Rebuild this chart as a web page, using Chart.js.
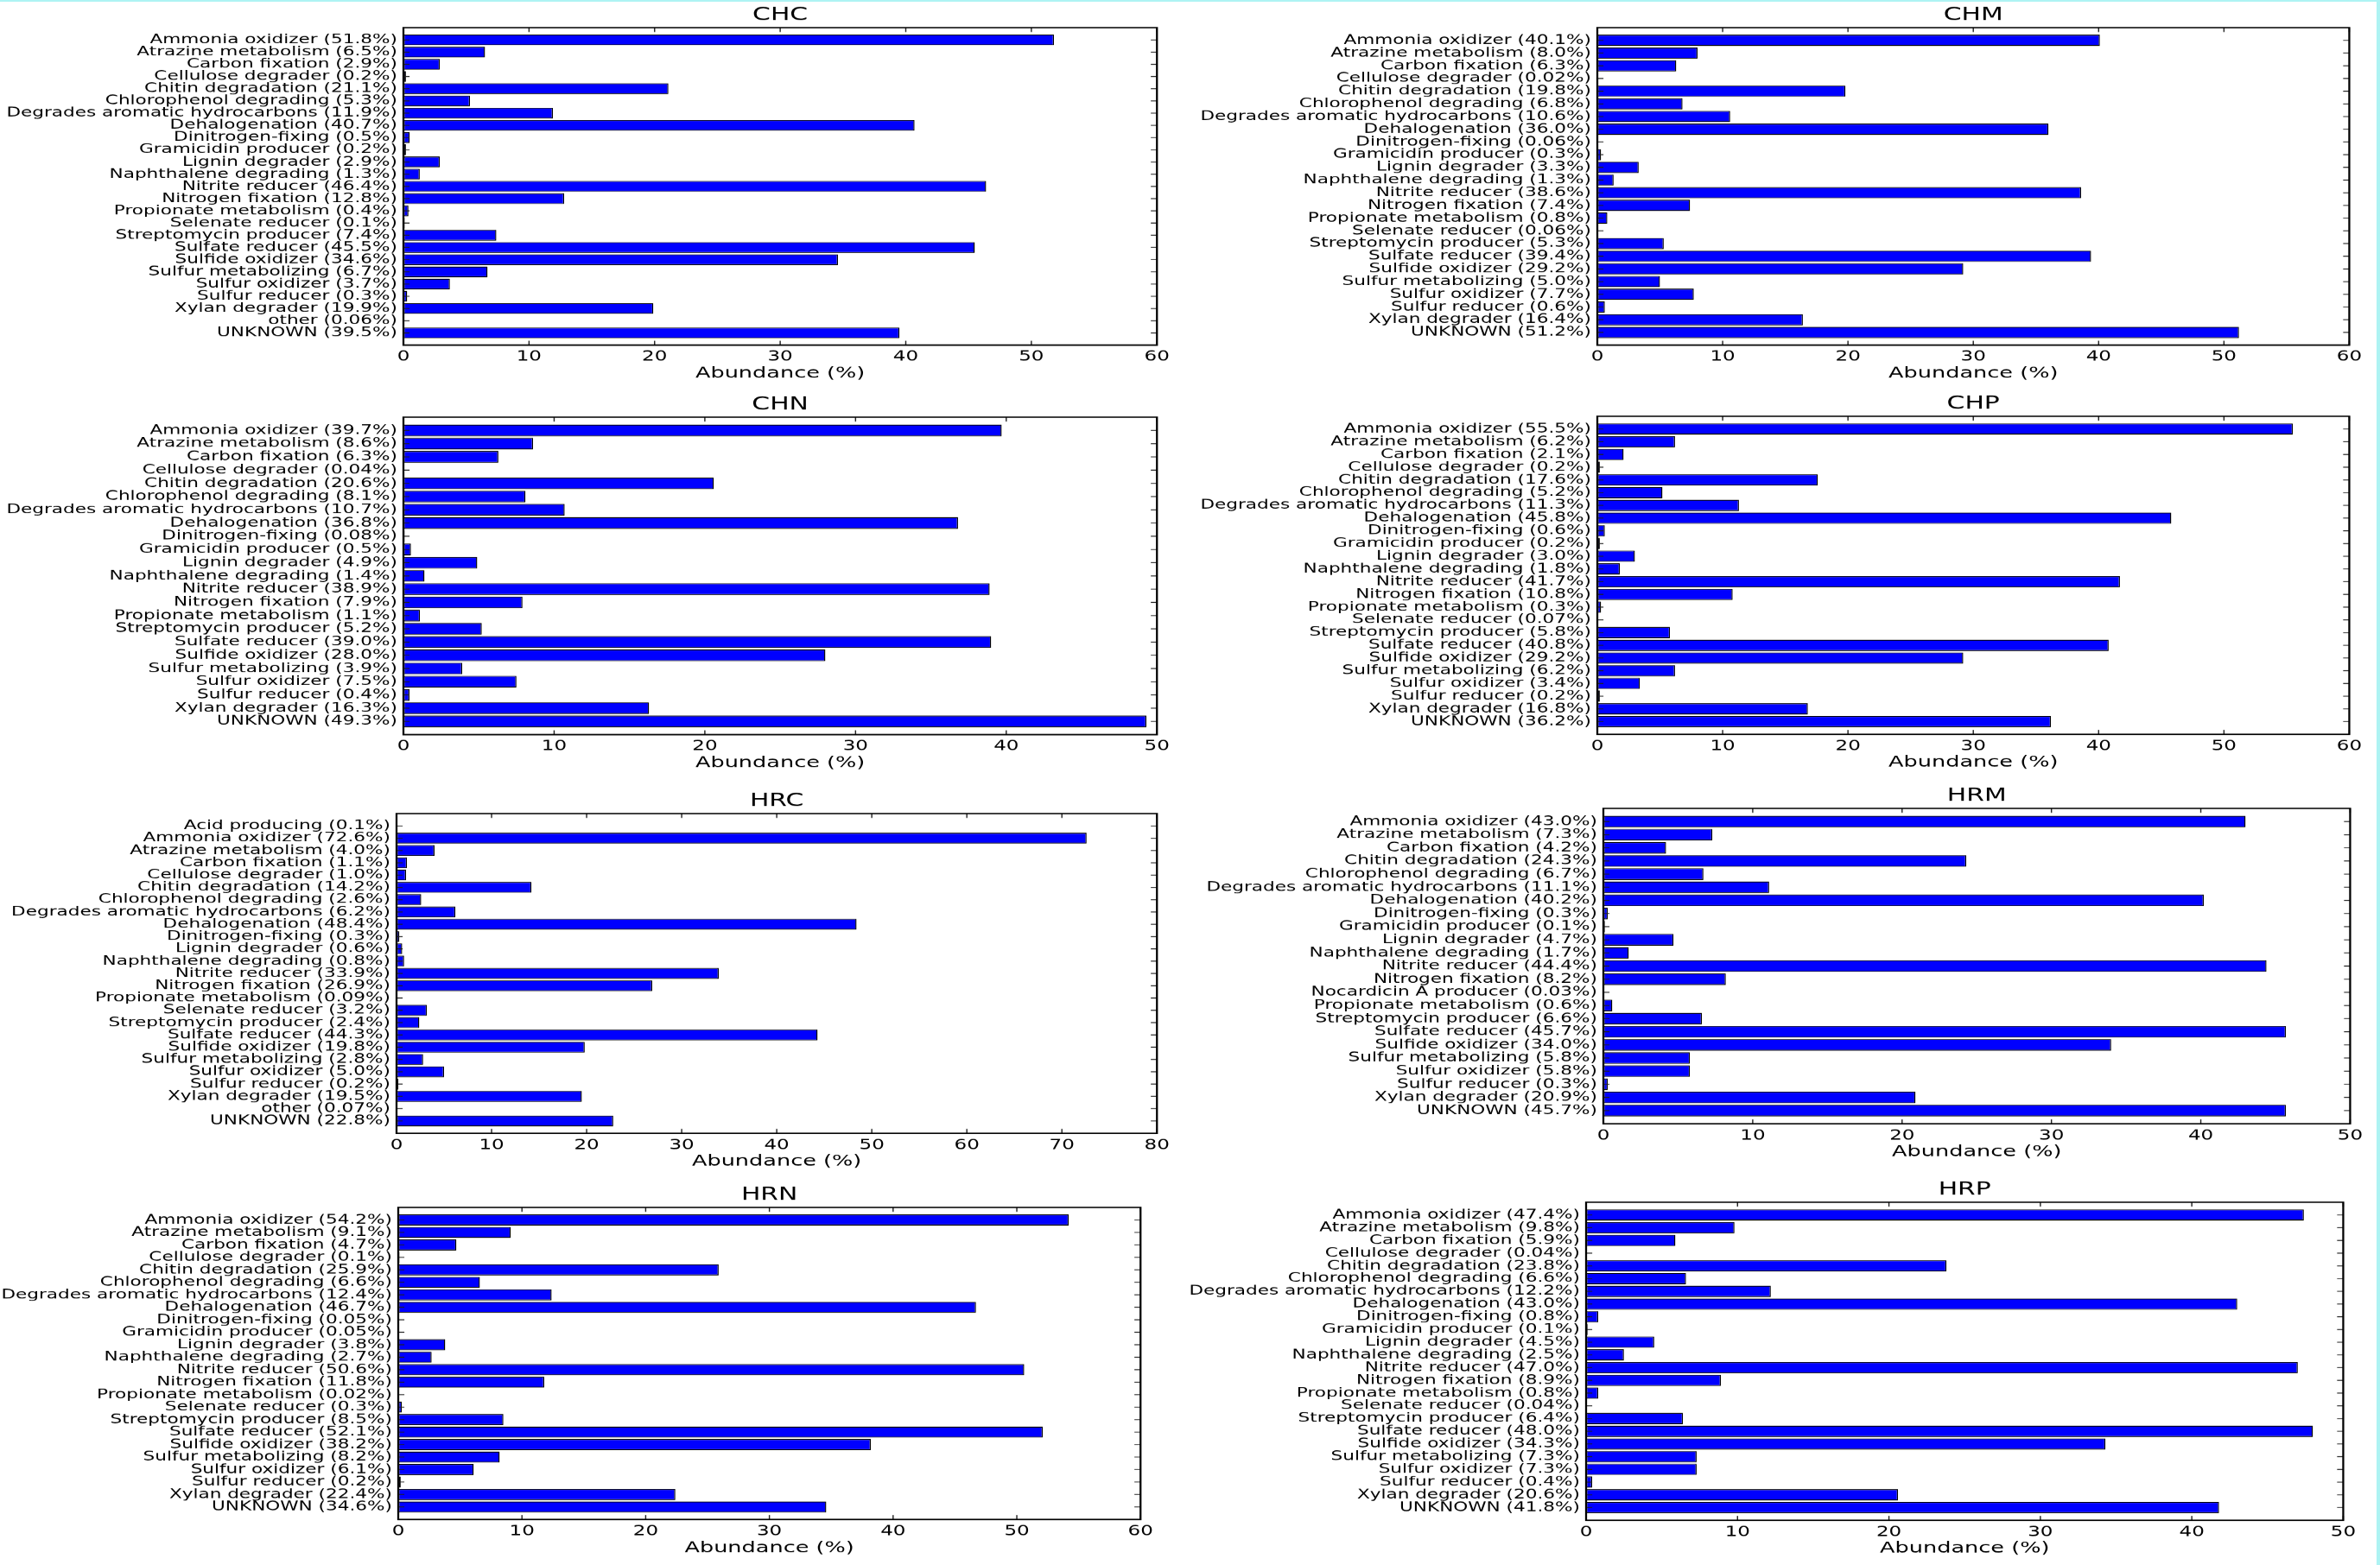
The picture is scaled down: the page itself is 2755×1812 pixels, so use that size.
<!DOCTYPE html>
<html>
<head>
<meta charset="utf-8">
<title>Functional group abundance</title>
<script src="https://cdn.jsdelivr.net/npm/chart.js@4.4.1/dist/chart.umd.min.js"></script>
<style>
  html, body { margin: 0; padding: 0; background: #fff; }
  #page { position: relative; width: 2755px; height: 1812px; overflow: hidden; background: #fff; }
  #page canvas { position: absolute; }
  .edge { position: absolute; background: #aef3f3; }
</style>
</head>
<body>
<div id="page">
  <div class="edge" style="left:0;top:0;width:2755px;height:2px"></div>
  <div class="edge" style="left:2751px;top:0;width:4px;height:1812px"></div>
</div>
<script>
const chcNames = ['Ammonia oxidizer', 'Atrazine metabolism', 'Carbon fixation', 'Cellulose degrader', 'Chitin degradation',
  'Chlorophenol degrading', 'Degrades aromatic hydrocarbons', 'Dehalogenation', 'Dinitrogen-fixing', 'Gramicidin producer',
  'Lignin degrader', 'Naphthalene degrading', 'Nitrite reducer', 'Nitrogen fixation', 'Propionate metabolism',
  'Selenate reducer', 'Streptomycin producer', 'Sulfate reducer', 'Sulfide oxidizer', 'Sulfur metabolizing',
  'Sulfur oxidizer', 'Sulfur reducer', 'Xylan degrader', 'other', 'UNKNOWN'];
const chcValues = [51.8, 6.5, 2.9, 0.2, 21.1, 5.3, 11.9, 40.7, 0.5, 0.2, 2.9, 1.3, 46.4, 12.8, 0.4,
  0.1, 7.4, 45.5, 34.6, 6.7, 3.7, 0.3, 19.9, 0.06, 39.5];

const chmNames = ['Ammonia oxidizer', 'Atrazine metabolism', 'Carbon fixation', 'Cellulose degrader', 'Chitin degradation',
  'Chlorophenol degrading', 'Degrades aromatic hydrocarbons', 'Dehalogenation', 'Dinitrogen-fixing', 'Gramicidin producer',
  'Lignin degrader', 'Naphthalene degrading', 'Nitrite reducer', 'Nitrogen fixation', 'Propionate metabolism',
  'Selenate reducer', 'Streptomycin producer', 'Sulfate reducer', 'Sulfide oxidizer', 'Sulfur metabolizing',
  'Sulfur oxidizer', 'Sulfur reducer', 'Xylan degrader', 'UNKNOWN'];
const chmValues = [40.1, 8.0, 6.3, 0.02, 19.8, 6.8, 10.6, 36.0, 0.06, 0.3, 3.3, 1.3, 38.6, 7.4, 0.8,
  0.06, 5.3, 39.4, 29.2, 5.0, 7.7, 0.6, 16.4, 51.2];

const chnNames = ['Ammonia oxidizer', 'Atrazine metabolism', 'Carbon fixation', 'Cellulose degrader', 'Chitin degradation',
  'Chlorophenol degrading', 'Degrades aromatic hydrocarbons', 'Dehalogenation', 'Dinitrogen-fixing', 'Gramicidin producer',
  'Lignin degrader', 'Naphthalene degrading', 'Nitrite reducer', 'Nitrogen fixation', 'Propionate metabolism',
  'Streptomycin producer', 'Sulfate reducer', 'Sulfide oxidizer', 'Sulfur metabolizing', 'Sulfur oxidizer',
  'Sulfur reducer', 'Xylan degrader', 'UNKNOWN'];
const chnValues = [39.7, 8.6, 6.3, 0.04, 20.6, 8.1, 10.7, 36.8, 0.08, 0.5, 4.9, 1.4, 38.9, 7.9, 1.1,
  5.2, 39.0, 28.0, 3.9, 7.5, 0.4, 16.3, 49.3];

const chpNames = ['Ammonia oxidizer', 'Atrazine metabolism', 'Carbon fixation', 'Cellulose degrader', 'Chitin degradation',
  'Chlorophenol degrading', 'Degrades aromatic hydrocarbons', 'Dehalogenation', 'Dinitrogen-fixing', 'Gramicidin producer',
  'Lignin degrader', 'Naphthalene degrading', 'Nitrite reducer', 'Nitrogen fixation', 'Propionate metabolism',
  'Selenate reducer', 'Streptomycin producer', 'Sulfate reducer', 'Sulfide oxidizer', 'Sulfur metabolizing',
  'Sulfur oxidizer', 'Sulfur reducer', 'Xylan degrader', 'UNKNOWN'];
const chpValues = [55.5, 6.2, 2.1, 0.2, 17.6, 5.2, 11.3, 45.8, 0.6, 0.2, 3.0, 1.8, 41.7, 10.8, 0.3,
  0.07, 5.8, 40.8, 29.2, 6.2, 3.4, 0.2, 16.8, 36.2];

const hrcNames = ['Acid producing', 'Ammonia oxidizer', 'Atrazine metabolism', 'Carbon fixation', 'Cellulose degrader',
  'Chitin degradation', 'Chlorophenol degrading', 'Degrades aromatic hydrocarbons', 'Dehalogenation', 'Dinitrogen-fixing',
  'Lignin degrader', 'Naphthalene degrading', 'Nitrite reducer', 'Nitrogen fixation', 'Propionate metabolism',
  'Selenate reducer', 'Streptomycin producer', 'Sulfate reducer', 'Sulfide oxidizer', 'Sulfur metabolizing',
  'Sulfur oxidizer', 'Sulfur reducer', 'Xylan degrader', 'other', 'UNKNOWN'];
const hrcValues = [0.1, 72.6, 4.0, 1.1, 1.0, 14.2, 2.6, 6.2, 48.4, 0.3, 0.6, 0.8, 33.9, 26.9, 0.09,
  3.2, 2.4, 44.3, 19.8, 2.8, 5.0, 0.2, 19.5, 0.07, 22.8];

const hrmNames = ['Ammonia oxidizer', 'Atrazine metabolism', 'Carbon fixation', 'Chitin degradation', 'Chlorophenol degrading',
  'Degrades aromatic hydrocarbons', 'Dehalogenation', 'Dinitrogen-fixing', 'Gramicidin producer', 'Lignin degrader',
  'Naphthalene degrading', 'Nitrite reducer', 'Nitrogen fixation', 'Nocardicin A producer', 'Propionate metabolism',
  'Streptomycin producer', 'Sulfate reducer', 'Sulfide oxidizer', 'Sulfur metabolizing', 'Sulfur oxidizer',
  'Sulfur reducer', 'Xylan degrader', 'UNKNOWN'];
const hrmValues = [43.0, 7.3, 4.2, 24.3, 6.7, 11.1, 40.2, 0.3, 0.1, 4.7, 1.7, 44.4, 8.2, 0.03, 0.6,
  6.6, 45.7, 34.0, 5.8, 5.8, 0.3, 20.9, 45.7];

const hrnNames = ['Ammonia oxidizer', 'Atrazine metabolism', 'Carbon fixation', 'Cellulose degrader', 'Chitin degradation',
  'Chlorophenol degrading', 'Degrades aromatic hydrocarbons', 'Dehalogenation', 'Dinitrogen-fixing', 'Gramicidin producer',
  'Lignin degrader', 'Naphthalene degrading', 'Nitrite reducer', 'Nitrogen fixation', 'Propionate metabolism',
  'Selenate reducer', 'Streptomycin producer', 'Sulfate reducer', 'Sulfide oxidizer', 'Sulfur metabolizing',
  'Sulfur oxidizer', 'Sulfur reducer', 'Xylan degrader', 'UNKNOWN'];
const hrnValues = [54.2, 9.1, 4.7, 0.1, 25.9, 6.6, 12.4, 46.7, 0.05, 0.05, 3.8, 2.7, 50.6, 11.8, 0.02,
  0.3, 8.5, 52.1, 38.2, 8.2, 6.1, 0.2, 22.4, 34.6];

const hrpNames = ['Ammonia oxidizer', 'Atrazine metabolism', 'Carbon fixation', 'Cellulose degrader', 'Chitin degradation',
  'Chlorophenol degrading', 'Degrades aromatic hydrocarbons', 'Dehalogenation', 'Dinitrogen-fixing', 'Gramicidin producer',
  'Lignin degrader', 'Naphthalene degrading', 'Nitrite reducer', 'Nitrogen fixation', 'Propionate metabolism',
  'Selenate reducer', 'Streptomycin producer', 'Sulfate reducer', 'Sulfide oxidizer', 'Sulfur metabolizing',
  'Sulfur oxidizer', 'Sulfur reducer', 'Xylan degrader', 'UNKNOWN'];
const hrpValues = [47.4, 9.8, 5.9, 0.04, 23.8, 6.6, 12.2, 43.0, 0.8, 0.1, 4.5, 2.5, 47.0, 8.9, 0.8,
  0.04, 6.4, 48.0, 34.3, 7.3, 7.3, 0.4, 20.6, 41.8];

// plot boxes in page pixels (left, right, top, bottom of the framed area)
const panels = [
  { title: 'CHC', names: chcNames, values: chcValues, xMax: 60, pl: 467, pr: 1339, pt: 32, pb: 399 },
  { title: 'CHM', names: chmNames, values: chmValues, xMax: 60, pl: 1849, pr: 2720, pt: 32, pb: 399 },
  { title: 'CHN', names: chnNames, values: chnValues, xMax: 50, pl: 467, pr: 1339, pt: 483, pb: 850 },
  { title: 'CHP', names: chpNames, values: chpValues, xMax: 60, pl: 1849, pr: 2720, pt: 482, pb: 850 },
  { title: 'HRC', names: hrcNames, values: hrcValues, xMax: 80, pl: 459, pr: 1339, pt: 942, pb: 1312 },
  { title: 'HRM', names: hrmNames, values: hrmValues, xMax: 50, pl: 1856, pr: 2721, pt: 936, pb: 1301 },
  { title: 'HRN', names: hrnNames, values: hrnValues, xMax: 60, pl: 461, pr: 1320, pt: 1398, pb: 1759 },
  { title: 'HRP', names: hrpNames, values: hrpValues, xMax: 50, pl: 1836, pr: 2713, pt: 1392, pb: 1760 },
];

Chart.defaults.font.family = '"DejaVu Sans", sans-serif';
Chart.defaults.color = '#000';

// the source figure is stretched sideways, so every canvas is drawn narrow and widened by CSS
const SX = 1.42;
const X_AXIS_H = 43.8;

function pctLabel(name, v) {
  return `${name} (${v < 0.1 ? v.toFixed(2) : v.toFixed(1)}%)`;
}

// black frame plus inward tick marks on all four sides, like the old matplotlib style
const frameTicks = {
  id: 'frameTicks',
  afterDraw(chart) {
    const { ctx, chartArea: a, scales: { x, y } } = chart;
    const line = (x1, y1, x2, y2) => { ctx.beginPath(); ctx.moveTo(x1, y1); ctx.lineTo(x2, y2); ctx.stroke(); };
    ctx.save();
    ctx.strokeStyle = '#222';
    ctx.lineWidth = 1;
    x.ticks.forEach(t => {
      const px = x.getPixelForValue(t.value);
      line(px, a.top, px, a.top + 5);
      line(px, a.bottom, px, a.bottom - 5);
    });
    y.ticks.forEach(t => {
      const py = y.getPixelForValue(t.value);
      line(a.left, py, a.left + 5, py);
      line(a.right, py, a.right - 5, py);
    });
    ctx.strokeStyle = '#000';
    ctx.lineWidth = 1.6;
    ctx.strokeRect(a.left, a.top, a.width, a.height);
    ctx.restore();
  }
};

const page = document.getElementById('page');

function drawPanel(p) {
  const left = p.pl < 1400 ? 0 : 1360;
  const right = p.pl < 1400 ? 1380 : 2755;
  const top = p.pt - 32;
  const height = p.pb - top + 46;
  const w = Math.round((right - left) / SX);

  const canvas = document.createElement('canvas');
  canvas.width = w;
  canvas.height = height;
  canvas.style.left = left + 'px';
  canvas.style.top = top + 'px';
  canvas.style.width = (w * SX) + 'px';
  canvas.style.height = height + 'px';
  page.appendChild(canvas);

  const labels = p.names.map((n, i) => pctLabel(n, p.values[i]));

  new Chart(canvas, {
    type: 'bar',
    data: {
      datasets: [{
        data: p.values.map((v, i) => ({ x: v, y: i })),
        backgroundColor: '#0000ff',
        borderColor: '#000',
        borderWidth: 1,
        borderSkipped: false,
        barPercentage: 0.88,
        categoryPercentage: 1,
      }],
    },
    options: {
      indexAxis: 'y',
      responsive: false,
      animation: false,
      devicePixelRatio: SX,
      layout: {
        padding: { left: 0, top: 0, right: (right - p.pr) / SX, bottom: height - (p.pb - top) - X_AXIS_H },
      },
      plugins: {
        legend: { display: false },
        tooltip: { enabled: false },
        title: {
          display: true,
          text: p.title,
          fullSize: false,
          color: '#000',
          font: { size: 21, weight: 'normal' },
          padding: { top: 5.4, bottom: 1.4 },
        },
      },
      scales: {
        x: {
          type: 'linear',
          position: 'bottom',
          min: 0,
          max: p.xMax,
          offset: false,
          grid: { display: false, drawTicks: false, offset: false },
          border: { display: false },
          ticks: { stepSize: 10, padding: 4.3, maxRotation: 0, autoSkip: false, font: { size: 16.2 } },
          title: { display: true, text: 'Abundance (%)', font: { size: 18 }, padding: { top: 0, bottom: 0 } },
          afterFit: s => { s.height = X_AXIS_H; s.paddingLeft = 0; s.paddingRight = 0; },
        },
        y: {
          type: 'linear',
          position: 'left',
          reverse: true,
          bounds: 'data',
          offset: false,
          min: -1,
          max: labels.length,
          grid: { display: false, drawTicks: false, offset: false },
          border: { display: false },
          afterBuildTicks: s => { s.ticks = labels.map((_, i) => ({ value: i })); },
          afterDataLimits: s => { s.min = -1; s.max = labels.length; },
          ticks: { autoSkip: false, stepSize: 1, padding: 5, font: { size: 15.2 }, callback: v => labels[v] },
          afterFit: s => { s.width = (p.pl - left) / SX; s.paddingTop = 0; s.paddingBottom = 0; },
        },
      },
    },
    plugins: [frameTicks],
  });
}

panels.forEach(drawPanel);
</script>
</body>
</html>
